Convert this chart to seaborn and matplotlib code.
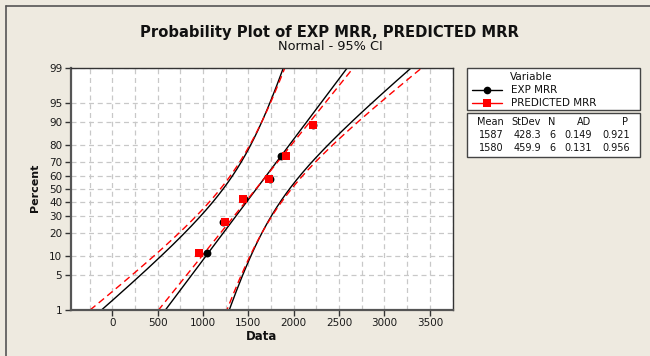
import numpy as np
import pandas as pd
import matplotlib
matplotlib.use("Agg")
import matplotlib.pyplot as plt
import seaborn as sns
from statistics import NormalDist
from matplotlib.lines import Line2D
from matplotlib.patches import Rectangle

# ---------------- data ----------------
exp_mrr = [1045, 1225, 1450, 1740, 1855, 2210]
predicted_mrr = [955, 1240, 1440, 1730, 1920, 2212]
series_names = ["EXP MRR", "PREDICTED MRR"]
percent_ticks = [1, 5, 10, 20, 30, 40, 50, 60, 70, 80, 90, 95, 99]
x_ticks = [0, 500, 1000, 1500, 2000, 2500, 3000, 3500]
table_header = ["Mean", "StDev", "N", "AD", "P"]
table_rows = [["1587", "428.3", "6", "0.149", "0.921"],
              ["1580", "459.9", "6", "0.131", "0.956"]]

sns.set_theme(style="white")
plt.rcParams['font.family'] = ['DejaVu Sans']

BG = "#EEEAE0"
nd = NormalDist()
W, H = 650, 356

fig = plt.figure(figsize=(6.5, 3.56), dpi=100, facecolor=BG)
ax = fig.add_axes([70.5 / W, 1 - 310 / H, (452.5 - 70.5) / W, (310 - 68) / H])
ax.set_facecolor("white")

styles = {
    "EXP MRR": dict(color="black", dashes=None, marker="o", ms=32),
    "PREDICTED MRR": dict(color="#FF0000", dashes=(5, 3), marker="s", ms=38),
}

zz = np.linspace(-3.0, 3.0, 300)
zci = 2.08
for name, vals in zip(series_names, [exp_mrr, predicted_mrr]):
    v = np.sort(np.asarray(vals, dtype=float))
    n = len(v)
    mu, s = v.mean(), v.std(ddof=1)
    fit = mu + zz * s
    half = zci * s * np.sqrt(1 / n + zz ** 2 / (2 * n))
    st = styles[name]
    for xx in (fit, fit - half, fit + half):
        df = pd.DataFrame({"x": xx, "z": zz})
        sns.lineplot(data=df, x="x", y="z", sort=False, estimator=None, ax=ax,
                     color=st["color"], lw=1.0, legend=False)
        if st["dashes"] is not None:
            ax.lines[-1].set_dashes(st["dashes"])

for name, vals in zip(series_names, [exp_mrr, predicted_mrr]):
    v = np.sort(np.asarray(vals, dtype=float))
    n = len(v)
    pct = [(i - 0.3) / (n + 0.4) for i in range(1, n + 1)]
    dfp = pd.DataFrame({"x": v, "z": [nd.inv_cdf(p) for p in pct]})
    st = styles[name]
    sns.scatterplot(data=dfp, x="x", y="z", ax=ax, color=st["color"],
                    marker=st["marker"], s=st["ms"], edgecolor=st["color"],
                    linewidth=0, legend=False, zorder=5)

ax.set_xlim(-460, 3640)
ax.set_ylim(nd.inv_cdf(0.01), nd.inv_cdf(0.99))
ax.set_xticks(x_ticks)
ax.set_xticks(np.arange(-250, 3751, 250), minor=True)
ax.set_yticks([nd.inv_cdf(p / 100) for p in percent_ticks])
ax.set_yticklabels([str(p) for p in percent_ticks])
ax.grid(True, which="both", axis="x", color="#C8C8C8", ls=(0, (4, 3)), lw=0.9)
ax.grid(True, which="major", axis="y", color="#C8C8C8", ls=(0, (4, 3)), lw=0.9)
ax.set_axisbelow(True)
ax.tick_params(axis="both", which="major", direction="out", length=4, width=1,
               color="#333333", labelsize=7.5, labelcolor="#1a1a1a", pad=2,
               bottom=True, left=True)
ax.tick_params(axis="x", which="minor", length=0)
for sp in ax.spines.values():
    sp.set_color("#333333")
    sp.set_linewidth(1.0)
ax.spines["left"].set_color("#555555")
ax.spines["left"].set_linewidth(1.6)
ax.spines["bottom"].set_color("#555555")
ax.spines["bottom"].set_linewidth(1.6)
ax.set_xlabel("")
ax.set_ylabel("")

# axis labels and titles
fig.text(262 / W, 1 - 337 / H, "Data", ha="center", va="center",
         fontsize=8.5, fontweight="bold", color="#111111")
fig.text(35 / W, 1 - 188 / H, "Percent", ha="center", va="center",
         rotation=90, fontsize=8, fontweight="bold", color="#111111")
fig.text(329 / W, 1 - 32 / H, "Probability Plot of EXP MRR, PREDICTED MRR",
         ha="center", va="center", fontsize=10.6, fontweight="bold", color="#111111")
fig.text(330 / W, 1 - 47 / H, "Normal - 95% CI", ha="center", va="center",
         fontsize=9.3, color="#111111")

# figure border (left/top)
fig.add_artist(Line2D([6 / W, 6 / W], [0, 1 - 6 / H], transform=fig.transFigure,
                      color="#555555", lw=1.2))
fig.add_artist(Line2D([6 / W, 1], [1 - 6 / H, 1 - 6 / H], transform=fig.transFigure,
                      color="#555555", lw=1.2))

# legend boxes
def fx(px):
    return px / W

def fy(py):
    return 1 - py / H

fig.add_artist(Rectangle((fx(467), fy(110)), (640 - 467) / W, (110 - 68) / H,
                         transform=fig.transFigure, facecolor="white",
                         edgecolor="#444444", lw=1.0))
fig.add_artist(Rectangle((fx(467), fy(157)), (640 - 467) / W, (157 - 113) / H,
                         transform=fig.transFigure, facecolor="white",
                         edgecolor="#444444", lw=1.0))
fig.text(fx(510), fy(77), "Variable", ha="left", va="center", fontsize=7.5,
         color="#111111")
for i, name in enumerate(series_names):
    yy = fy(90 + 12.7 * i)
    st = styles[name]
    ln = Line2D([fx(472), fx(502)], [yy, yy], transform=fig.transFigure,
                color=st["color"], lw=1.0)
    fig.add_artist(ln)
    mk = Line2D([fx(487)], [yy], transform=fig.transFigure, color=st["color"],
                marker=st["marker"], ms=6 if st["marker"] == "s" else 5.5,
                lw=0, markeredgewidth=0)
    fig.add_artist(mk)
    fig.text(fx(511), yy, name, ha="left", va="center", fontsize=7.5,
             color="#111111")

col_right = [504, 541, 555, 592, 630]
header_x = [490, 526, 552, 584, 625]
for j, h in enumerate(table_header):
    fig.text(fx(header_x[j]), fy(122), h, ha="center", va="center", fontsize=7,
             color="#111111")
for i, row in enumerate(table_rows):
    for j, val in enumerate(row):
        fig.text(fx(col_right[j]), fy(135 + 13 * i), val, ha="right", va="center",
                 fontsize=7, color="#111111")

fig.savefig("out.png", dpi=100, facecolor=BG)
